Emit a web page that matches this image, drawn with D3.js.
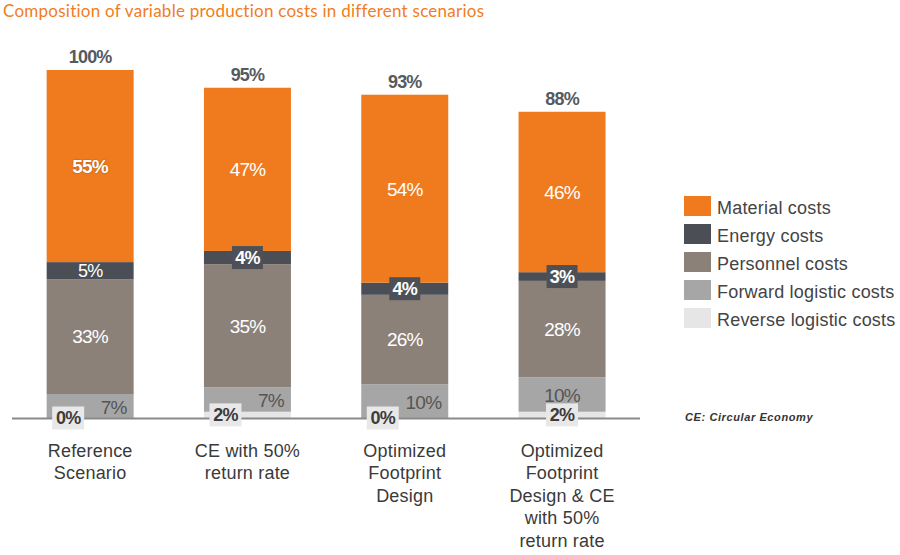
<!DOCTYPE html>
<html>
<head>
<meta charset="utf-8">
<script src="https://cdn.jsdelivr.net/npm/d3@7"></script>
<style>
  body { margin: 0; background: #fff; }
  svg { display: block; font-family: "Liberation Sans", Arial, sans-serif; }
</style>
</head>
<body>
<div id="chart"></div>
<script>
// Scenario names (line breaks mark the wrapped axis labels).
var scenarios = [
  "Reference\nScenario",
  "CE with 50%\nreturn rate",
  "Optimized\nFootprint\nDesign",
  "Optimized\nFootprint\nDesign & CE\nwith 50%\nreturn rate"
];

// Cost components, top of the stack first.
var seriesNames = ["Material costs", "Energy costs", "Personnel costs", "Forward logistic costs", "Reverse logistic costs"];

// Share of reference cost (%), one value per scenario.
var materialCosts  = [55.2, 46.9, 54.0, 46.1];
var energyCosts    = [4.9, 3.8, 3.5, 2.5];
var personnelCosts = [33.0, 35.4, 25.7, 27.7];
var forwardCosts   = [6.9, 7.0, 9.7, 9.9];
var reverseCosts   = [0, 1.8, 0, 1.8];

var titleText = "Composition of variable production costs in different scenarios";
var footnote = "CE: Circular Economy";

(function() {
  var width = 900,
      height = 555;

  var colors = {
    "Material costs": "#f07b1e",
    "Energy costs": "#4b4f55",
    "Personnel costs": "#8b8179",
    "Forward logistic costs": "#a6a6a6",
    "Reverse logistic costs": "#e6e6e6"
  };

  var seriesValues = {
    "Material costs": materialCosts,
    "Energy costs": energyCosts,
    "Personnel costs": personnelCosts,
    "Forward logistic costs": forwardCosts,
    "Reverse logistic costs": reverseCosts
  };

  // Build rows for d3.stack.
  var rows = scenarios.map(function(s, i) {
    var r = { scenario: s, index: i };
    seriesNames.forEach(function(k) { r[k] = seriesValues[k][i]; });
    return r;
  });

  var stackKeys = seriesNames.slice().reverse(); // bottom first
  var stacked = d3.stack().keys(stackKeys)(rows);

  var svg = d3.select("#chart")
    .append("svg")
      .attr("width", width)
      .attr("height", height);

  var x = d3.scaleBand()
    .domain(scenarios)
    .range([11.5, 640.7])
    .paddingInner(0.447)
    .paddingOuter(0.2235);

  var y = d3.scaleLinear()
    .domain([0, 100])
    .range([418, 70]);

  // Title
  svg.append("text")
    .attr("x", 3)
    .attr("y", 17)
    .style("font-family", "Lato, 'Open Sans', sans-serif")
    .style("font-size", "17px")
    .style("letter-spacing", "0.25px")
    .style("fill", "#f07d22")
    .text(titleText);

  // Stacked segments
  var layers = svg.append("g")
    .selectAll("g")
    .data(stacked)
    .enter()
    .append("g")
      .attr("fill", function(d) { return colors[d.key]; });

  layers.selectAll("rect")
    .data(function(d) { return d; })
    .enter()
    .append("rect")
      .attr("x", function(d) { return x(d.data.scenario); })
      .attr("y", function(d) { return y(d[1]); })
      .attr("width", x.bandwidth())
      .attr("height", function(d) { return y(d[0]) - y(d[1]); });

  // Baseline
  svg.append("line")
    .attr("x1", 12)
    .attr("x2", 640)
    .attr("y1", y(0) + 0.5)
    .attr("y2", y(0) + 0.5)
    .attr("stroke", "#8a8a8a")
    .attr("stroke-width", 2);

  // Segment labels
  var labels = svg.append("g");
  var numStyle = function(t, size, weight, fill) {
    t.style("font-size", size + "px")
     .style("font-weight", weight)
     .style("letter-spacing", "-0.8px")
     .style("fill", fill);
    return t;
  };

  stacked.forEach(function(layer) {
    layer.forEach(function(d, i) {
      var key = layer.key;
      var val = d.data[key];
      var label = Math.round(val) + "%";
      var left = x(d.data.scenario),
          cx = left + x.bandwidth() / 2,
          right = left + x.bandwidth();
      var y0 = y(d[0]), y1 = y(d[1]);
      var cy = (y0 + y1) / 2;
      var segH = y0 - y1;
      var centered = i === scenarios.length - 1;

      if (key === "Material costs" || key === "Personnel costs") {
        var bold = key === "Material costs" && i === 0;
        numStyle(labels.append("text"), 19, bold ? "bold" : "normal", "#fff")
          .attr("x", cx)
          .attr("y", cy)
          .attr("dy", "0.36em")
          .attr("text-anchor", "middle")
          .style("text-shadow", bold ? "0 0 2px rgba(0,0,0,0.35)" : null)
          .text(label);
      } else if (key === "Energy costs") {
        if (segH >= 16) {
          numStyle(labels.append("text"), 18, "normal", "#fff")
            .attr("x", cx)
            .attr("y", cy)
            .attr("dy", "0.36em")
            .attr("text-anchor", "middle")
            .text(label);
        } else {
          labels.append("rect")
            .attr("x", cx - 15.5)
            .attr("y", cy - 11.5)
            .attr("width", 31)
            .attr("height", 23)
            .attr("fill", "#4d5157");
          numStyle(labels.append("text"), 18, "bold", "#fff")
            .attr("x", cx)
            .attr("y", cy)
            .attr("dy", "0.36em")
            .attr("text-anchor", "middle")
            .text(label);
        }
      } else if (key === "Forward logistic costs") {
        numStyle(labels.append("text"), 19, "normal", "#555")
          .attr("x", centered ? cx : right - 7)
          .attr("y", cy + 1)
          .attr("dy", "0.36em")
          .attr("text-anchor", centered ? "middle" : "end")
          .text(label);
      } else {
        var bx = centered ? cx : left + 21.5;
        labels.append("rect")
          .attr("x", bx - 16)
          .attr("y", cy - 11.5)
          .attr("width", 32)
          .attr("height", 23)
          .attr("fill", "#e8e8e8");
        numStyle(labels.append("text"), 18, "bold", "#3c3c3c")
          .attr("x", bx)
          .attr("y", cy)
          .attr("dy", "0.36em")
          .attr("text-anchor", "middle")
          .text(label);
      }
    });
  });

  // Totals above bars
  var top = stacked[stacked.length - 1];
  numStyle(svg.append("g").selectAll("text")
    .data(top)
    .enter()
    .append("text"), 18, "bold", "#555a5f")
      .attr("x", function(d) { return x(d.data.scenario) + x.bandwidth() / 2; })
      .attr("y", function(d) { return y(d[1]) - 7; })
      .attr("text-anchor", "middle")
      .text(function(d) { return Math.round(d[1]) + "%"; });

  // Category labels (multi-line)
  var cats = svg.append("g")
    .selectAll("text")
    .data(scenarios)
    .enter()
    .append("text")
      .attr("x", function(d) { return x(d) + x.bandwidth() / 2; })
      .attr("y", 457)
      .attr("text-anchor", "middle")
      .style("font-size", "18px")
      .style("letter-spacing", "0.2px")
      .style("fill", "#3a3a3a");

  cats.selectAll("tspan")
    .data(function(d) { return d.split("\n"); })
    .enter()
    .append("tspan")
      .attr("x", function() { return d3.select(this.parentNode).attr("x"); })
      .attr("dy", function(d, i) { return i === 0 ? 0 : 22.4; })
      .text(function(d) { return d; });

  // Legend
  var legend = svg.append("g")
    .attr("transform", "translate(684,196)");

  seriesNames.forEach(function(name, i) {
    var g = legend.append("g")
      .attr("transform", "translate(0," + (i * 28) + ")");
    g.append("rect")
      .attr("width", 27)
      .attr("height", 20)
      .attr("fill", colors[name]);
    g.append("text")
      .attr("x", 33)
      .attr("y", 18)
      .style("font-size", "18px")
      .style("letter-spacing", "0.2px")
      .style("fill", "#444")
      .text(name);
  });

  // Footnote
  svg.append("text")
    .attr("x", 685)
    .attr("y", 421)
    .style("font-size", "11px")
    .style("font-weight", "bold")
    .style("font-style", "italic")
    .style("letter-spacing", "0.6px")
    .style("fill", "#333")
    .text(footnote);
})();
</script>
</body>
</html>
